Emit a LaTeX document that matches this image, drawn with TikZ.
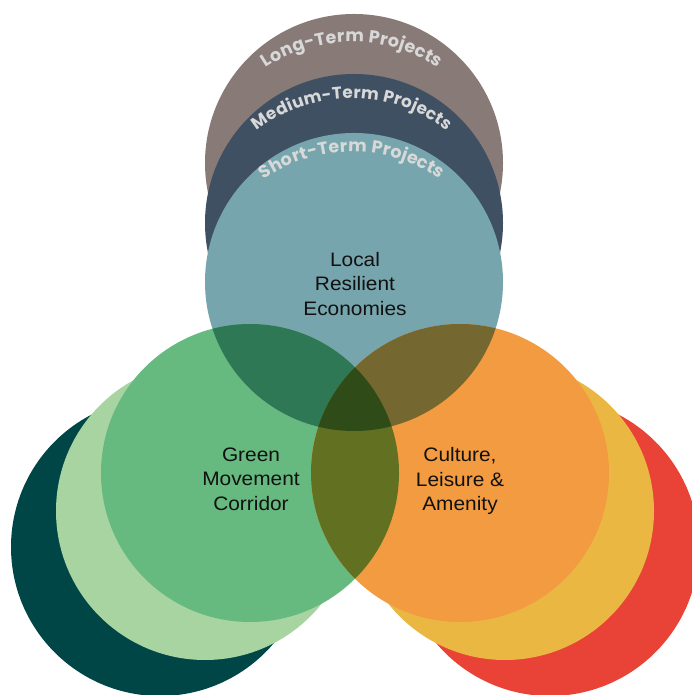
\documentclass[tikz,border=0pt]{standalone}
\usepackage{fontspec}
\usetikzlibrary{decorations.text,calc}
\newfontfamily\labelfont{Liberation Sans}[FakeStretch=1.07]
\newfontfamily\arcfont{Poppins}
\definecolor{cGrey}{HTML}{877A77}
\definecolor{cNavy}{HTML}{3F5062}
\definecolor{cTeal}{HTML}{77A5AD}
\definecolor{cGreen}{HTML}{66B97F}
\definecolor{cLightGreen}{HTML}{A8D4A1}
\definecolor{cDarkTeal}{HTML}{004646}
\definecolor{cOrange}{HTML}{F39B41}
\definecolor{cYellow}{HTML}{EBB743}
\definecolor{cRed}{HTML}{E94236}
\definecolor{cGT}{HTML}{2E7855}
\definecolor{cTO}{HTML}{74672F}
\definecolor{cGO}{HTML}{617021}
\definecolor{cGTO}{HTML}{2F4B17}
\definecolor{arctxt}{HTML}{D8D8D8}
\definecolor{labeltxt}{HTML}{111111}
\begin{document}
\begin{tikzpicture}[x=1pt,y=1pt,
  disc/.style={fill=#1},
  circlelabel/.style={align=center, text=labeltxt, inner sep=0pt,
    font=\labelfont\fontsize{19.5}{24.5}\selectfont},
  arclabel/.style 2 args={decorate, decoration={text along path, text={|\arcfont\bfseries\fontsize{#2}{#2}\selectfont|#1},
    text align={fit to path}, text color=arctxt}}]
\useasboundingbox (0,0) rectangle (692,695);
% centres
\coordinate (cLong) at (354,532);
\coordinate (cMed) at (354,472);
\coordinate (cShort) at (354,413);
\coordinate (cGr) at (250,222);
\coordinate (cLG) at (205,184);
\coordinate (cDT) at (160,148);
\coordinate (cOr) at (460,222);
\coordinate (cYe) at (505,184);
\coordinate (cRe) at (550,148);
\def\R{149pt}
% back circles
\fill[disc=cDarkTeal] (cDT) circle[radius=\R];
\fill[disc=cLightGreen] (cLG) circle[radius=\R];
\fill[disc=cRed] (cRe) circle[radius=\R];
\fill[disc=cYellow] (cYe) circle[radius=\R];
% top stack
\fill[disc=cGrey] (cLong) circle[radius=\R];
\fill[disc=cNavy] (cMed) circle[radius=\R];
\fill[disc=cTeal] (cShort) circle[radius=\R];
% main circles
\fill[disc=cGreen] (cGr) circle[radius=\R];
\fill[disc=cOrange] (cOr) circle[radius=\R];
% pairwise overlaps
\begin{scope}
  \clip (cShort) circle[radius=\R];
  \fill[disc=cGT] (cGr) circle[radius=\R];
  \fill[disc=cTO] (cOr) circle[radius=\R];
\end{scope}
\begin{scope}
  \clip (cGr) circle[radius=\R];
  \fill[disc=cGO] (cOr) circle[radius=\R];
\end{scope}
\begin{scope}
  \clip (cGr) circle[radius=\R];
  \clip (cOr) circle[radius=\R];
  \fill[disc=cGTO] (cShort) circle[radius=\R];
\end{scope}
% arc labels
\coordinate (aLong) at (352,498);
\coordinate (aMed) at (352,441.7);
\coordinate (aShort) at (352,388.3);
\path[arclabel={Long-Term Projects}{17.5}] ($(aLong)+(123.7:155)$) arc[start angle=123.7, end angle=56.3, radius=155];
\path[arclabel={Medium-Term Projects}{16.8}] ($(aMed)+(127.8:155)$) arc[start angle=127.8, end angle=52.2, radius=155];
\path[arclabel={Short-Term Projects}{17.5}] ($(aShort)+(124.6:155)$) arc[start angle=124.6, end angle=55.4, radius=155];
% main labels
\node[circlelabel] (local) at (355,411) {Local\\Resilient\\Economies};
\node[circlelabel] (green) at (251,216) {Green\\Movement\\Corridor};
\node[circlelabel] (culture) at (460,213.6) {Culture,\\Leisure \&\\Amenity};
\end{tikzpicture}
\end{document}
